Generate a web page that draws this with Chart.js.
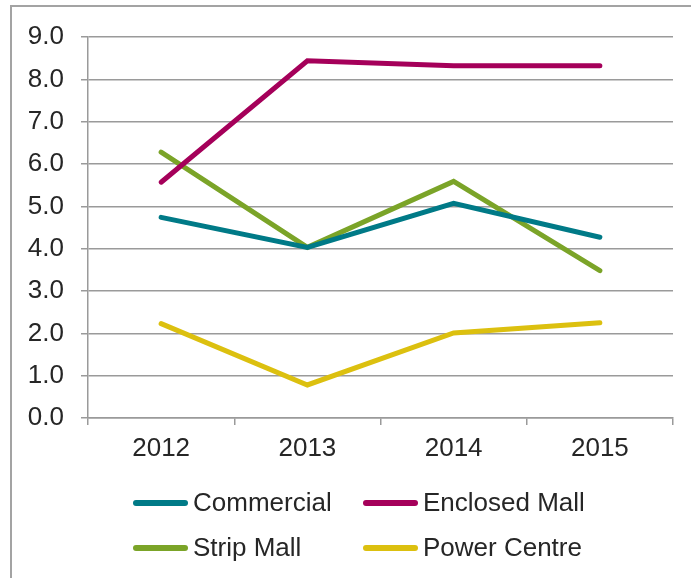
<!DOCTYPE html>
<html>
<head>
  <title>Retail vacancy by type</title>
  <style>
    body {
      margin: 0;
      padding: 0;
      background: #fff;
      font-family: 'Liberation Sans', Arial, sans-serif;
      overflow: hidden;
    }

    .wrap {
      position: relative;
      width: 691px;
      height: 578px;
      overflow: hidden;
    }

    .frame {
      position: absolute;
      left: 10px;
      top: 5px;
      width: 720px;
      height: 620px;
      border: 2px solid #a3a3a3;
      box-sizing: border-box;
    }

    .chart-box {
      position: absolute;
      left: 0;
      top: 0;
      width: 691px;
      height: 578px;
    }

    #legend {
      position: absolute;
      left: 133px;
      top: 480px;
      display: grid;
      grid-template-columns: 230px auto;
      grid-auto-rows: 45px;
      align-items: center;
      font-size: 26px;
      color: #262626;
    }

    .item {
      display: flex;
      align-items: center;
      white-space: nowrap;
    }

    .swatch {
      width: 55px;
      height: 6px;
      border-radius: 3px;
      margin-right: 5px;
    }
  </style>
</head>
<body>
  <div class="wrap">
    <div class="frame"></div>
    <div class="chart-box"><canvas id="chart"></canvas></div>
    <div id="legend"></div>
  </div>

  <script src="https://cdn.jsdelivr.net/npm/chart.js"></script>
  <script>
    const years = ['2012', '2013', '2014', '2015'];
    const commercial = [4.74, 4.03, 5.07, 4.27];
    const enclosedMall = [5.57, 8.44, 8.32, 8.32];
    const stripMall = [6.28, 4.03, 5.59, 3.48];
    const powerCentre = [2.23, 0.78, 2.01, 2.25];

    const seriesNames = ['Commercial', 'Enclosed Mall', 'Strip Mall', 'Power Centre'];
    const seriesColors = ['#007a87', '#a5005a', '#7ba428', '#dcc00f'];
    const seriesValues = [commercial, enclosedMall, stripMall, powerCentre];

    const gridGray = '#9a9a9a';
    const textColor = '#262626';
    const font = { family: "'Liberation Sans', Arial, sans-serif", size: 26 };

    const datasets = seriesNames.map((name, i) => ({
      label: name,
      data: seriesValues[i],
      borderColor: seriesColors[i],
      backgroundColor: seriesColors[i],
      borderWidth: 5,
      pointRadius: 0,
      pointHoverRadius: 0,
      tension: 0,
      borderCapStyle: 'round',
      fill: false
    }));

    new Chart(document.getElementById('chart'), {
      type: 'line',
      data: { labels: years, datasets },
      options: {
        responsive: true,
        maintainAspectRatio: false,
        animation: false,
        layout: { padding: { left: 0, top: 37, right: 18, bottom: 100 } },
        plugins: {
          legend: { display: false },
          tooltip: { enabled: false }
        },
        scales: {
          x: {
            offset: true,
            grid: {
              offset: true,
              drawOnChartArea: false,
              drawTicks: true,
              tickLength: 7,
              color: gridGray,
              lineWidth: 1.5
            },
            border: { display: true, color: gridGray, width: 1.5 },
            ticks: { color: textColor, font, padding: 8, maxRotation: 0 },
            afterFit(scale) { scale.height = 60; }
          },
          y: {
            min: 0,
            max: 9,
            grid: {
              color: gridGray,
              lineWidth: 1.5,
              drawTicks: true,
              tickLength: 7
            },
            border: { display: true, color: gridGray, width: 1.5 },
            ticks: {
              stepSize: 1,
              color: textColor,
              font,
              padding: 17,
              callback: v => v.toFixed(1)
            },
            afterFit(scale) { scale.width = 88; }
          }
        }
      }
    });

    const legend = document.getElementById('legend');
    seriesNames.forEach((name, i) => {
      const item = document.createElement('div');
      item.className = 'item';
      const sw = document.createElement('span');
      sw.className = 'swatch';
      sw.style.background = seriesColors[i];
      const label = document.createElement('span');
      label.textContent = name;
      item.appendChild(sw);
      item.appendChild(label);
      legend.appendChild(item);
    });
  </script>
</body>
</html>
